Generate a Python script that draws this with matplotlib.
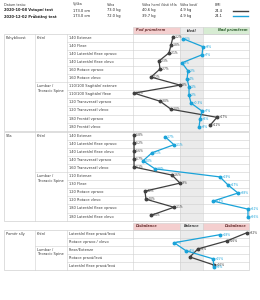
"""Spine test report chart: table of exercises with deviation from norm."""

import matplotlib
matplotlib.use("Agg")
import matplotlib.pyplot as plt
from matplotlib.patches import Rectangle

# --- header data ---
HEAD_COLS = ["Datum testu:", "Výška", "Váha", "Váha horní části těla", "Váha kostí", "BMI"]
TESTS = ["2020-10-08 Vstupní test", "2020-12-02 Průběžný test"]
HEIGHTS = ["173.0 cm", "173.0 cm"]
WEIGHTS = ["73.0 kg", "72.0 kg"]
UPPER = ["40.6 kg", "39.7 kg"]
BONES = ["4.9 kg", "4.9 kg"]
BMI = ["24.4", "24.1"]
TEST_COLORS = ["#404040", "#1aa3d9"]

# --- table data ---
GROUPS = ["Krční", "Lumbar /\nThoracic Spine"]

MOB_ROWS = ["140 Extenze", "140 Flexe", "140 Laterální flexe vpravo",
            "140 Laterální flexe vlevo", "160 Rotace vpravo", "160 Rotace vlevo",
            "110/100 Sagitální extenze", "110/100 Sagitální flexe",
            "120 Transverzál vpravo", "120 Transverzál vlevo",
            "180 Frontál vpravo", "180 Frontál vlevo"]
MOB_GROUP_SIZES = [6, 6]
MOB_FIRST = [34.5, 32.8, 31.0, 22.4, 23.3, 15.5, 40.5, 0.9, 23.3, 32.8, 72.4, 66.4]
MOB_FIRST_LBL = ["-12%", "-18%", "-21%", "-23%", "-27%", "-42%", "-8%", "-66%",
                 "-30%", "-20%", "+17%", "+11%"]
MOB_SECOND = [43.1, 60.3, 59.5, 42.2, 47.4, 46.6, 48.3, 48.3, 50.0, 59.5, 57.8, 56.9]
MOB_SECOND_LBL = ["-6%", "+8%", "+7%", "-9%", "-2%", "-4%", "-1%", "-2%",
                  "+0.3%", "+7%", "+6%", "+3%"]

STR_ROWS = ["140 Extenze", "140 Laterální flexe vpravo", "140 Laterální flexe vlevo",
            "140 Transverzál vpravo", "160 Transverzál vlevo",
            "110 Extenze", "130 Flexe", "120 Rotace vpravo", "120 Rotace vlevo",
            "180 Laterální flexe vpravo", "180 Laterální flexe vlevo"]
STR_GROUP_SIZES = [5, 6]
STR_FIRST = [0.9, 0.9, 0.9, 0.9, 0.9, 33.6, 40.5, 10.3, 11.2, 35.3, 15.5]
STR_FIRST_LBL = ["-58%", "-52%", "-56%", "-57%", "-61%", "-16%", "-9%", "-42%",
                 "-40%", "-11%", "-44%"]
STR_SECOND = [27.6, 35.3, 16.4, 8.6, 19.0, 75.0, 81.9, 90.5, 69.0, 99.1, 99.1]
STR_SECOND_LBL = ["-17%", "-11%", "-31%", "-40%", "-28%", "+19%", "+27%", "+38%",
                  "+13%", "+61%", "+96%"]

RAT_ROWS = ["Laterální flexe pravá/levá", "Rotace vpravo / vlevo",
            "Flexe/Extenze", "Rotace pravá/levá", "Laterální flexe pravá/levá"]
RAT_GROUP_SIZES = [2, 3]
RAT_FIRST = [98.0, 81.0, 56.0, 49.0, 69.8]
RAT_FIRST_LBL = ["+32%", "+16%", "+3%", "", "+16%"]
RAT_SECOND = [75.0, 35.5, 45.7, 69.0, 69.8]
RAT_SECOND_LBL = ["+18%", "-7%", "+4%", "+15%", "+9%"]

# zone limits on the score axis (0..100)
IDEAL_LO, IDEAL_HI = 40.5, 60.3

# --- layout (pixels) ---
W, H = 260, 300
X0, X_GRP, X_LBL, X_CH, X1 = 4, 35, 67, 133, 249
ROW_H = 8.05
LINE_C = "#d0d0d0"
TEXT_C = "#3a3a3a"
PINK, GREY, GREEN = "#f4cfcf", "#ebebeb", "#d7ecd3"
FS = 2.6


def px(score):
    return X_CH + score / 100 * (X1 - X_CH)


fig = plt.figure(figsize=(W / 100, H / 100), dpi=100, facecolor="white")
bg = fig.add_axes([0, 0, 1, 1])
bg.set_xlim(0, W)
bg.set_ylim(H, 0)
bg.axis("off")

# header block
col_x = [4, 73, 107, 142, 180, 215]
for x, t in zip(col_x, HEAD_COLS):
    bg.text(x, 4.5, t, fontsize=FS - 0.2, va="center", color=TEXT_C)
for i in range(2):
    y = 10.5 + i * 5.8
    vals = [TESTS[i], HEIGHTS[i], WEIGHTS[i], UPPER[i], BONES[i], BMI[i]]
    for j, (x, t) in enumerate(zip(col_x, vals)):
        bg.text(x, y, t, fontsize=FS, va="center", color="#222",
                fontweight="bold" if j == 0 else "normal")
    bg.plot([233, 248], [y, y], color=TEST_COLORS[i], lw=1.0)


def zone_header(y0, y1, labels, fills, colors):
    spans = [(X_CH, px(IDEAL_LO)), (px(IDEAL_LO), px(IDEAL_HI)), (px(IDEAL_HI), X1)]
    aligns = ["left", "center", "right"]
    for (a, b), lab, fc, tc, ha in zip(spans, labels, fills, colors, aligns):
        bg.add_patch(Rectangle((a, y0), b - a, y1 - y0, facecolor=fc,
                               edgecolor=LINE_C, lw=0.4))
        tx = {"left": a + 3, "center": (a + b) / 2, "right": b - 2}[ha]
        bg.text(tx, (y0 + y1) / 2, lab, fontsize=FS - 0.1, ha=ha, va="center",
                color=tc, style="italic", fontweight="bold")


def section(top, name, rows, group_sizes, first, first_lbl, second, second_lbl):
    n = len(rows)
    bottom = top + n * ROW_H
    # ideal band
    bg.add_patch(Rectangle((px(IDEAL_LO), top), px(IDEAL_HI) - px(IDEAL_LO),
                           n * ROW_H, facecolor=GREY, edgecolor="none", zorder=0))
    bg.add_patch(Rectangle((X0, top), X1 - X0, n * ROW_H, facecolor="none",
                           edgecolor=LINE_C, lw=0.5, zorder=1))
    for x in (X_GRP, X_LBL, X_CH, px(IDEAL_LO), px(IDEAL_HI)):
        bg.plot([x, x], [top, bottom], color=LINE_C, lw=0.4, zorder=1)
    bg.text(X0 + 2, top + 4, name, fontsize=FS, va="center", color=TEXT_C)
    r = 0
    for g, size in zip(GROUPS, group_sizes):
        gy = top + r * ROW_H
        if r > 0:
            bg.plot([X_GRP, X1], [gy, gy], color=LINE_C, lw=0.4, zorder=1)
        bg.text(X_GRP + 2, gy + 2, g, fontsize=FS, va="top", color=TEXT_C,
                linespacing=1.1)
        for k in range(size):
            ry = gy + k * ROW_H
            if k > 0:
                bg.plot([X_LBL, X1], [ry, ry], color=LINE_C, lw=0.4, zorder=1)
            bg.text(X_LBL + 2, ry + ROW_H / 2, rows[r + k], fontsize=FS,
                    va="center", color=TEXT_C)
        r += size

    ax = fig.add_axes([X_CH / W, 1 - bottom / H, (X1 - X_CH) / W, n * ROW_H / H])
    ax.set_xlim(0, 100)
    ax.set_ylim(n, 0)
    ax.axis("off")
    ax.patch.set_alpha(0)
    for vals, lbls, col, dy in ((first, first_lbl, TEST_COLORS[0], -0.15),
                                (second, second_lbl, TEST_COLORS[1], 0.08)):
        ys = [i + 0.5 + dy for i in range(n)]
        ax.plot(vals, ys, color=col, lw=0.9, marker="o", ms=1.8, clip_on=False)
        for v, y, t in zip(vals, ys, lbls):
            ax.text(v + 1.8, y, t, fontsize=FS - 0.4, va="center", color=col,
                    clip_on=False)


zone_header(27, 34, ["Pod průměrem", "Ideál", "Nad průměrem"],
            [PINK, GREY, GREEN], ["#6b3333", "#444444", "#2e5e2e"])
section(34, "Pohyblivost", MOB_ROWS, MOB_GROUP_SIZES,
        MOB_FIRST, MOB_FIRST_LBL, MOB_SECOND, MOB_SECOND_LBL)
section(132, "Síla", STR_ROWS, STR_GROUP_SIZES,
        STR_FIRST, STR_FIRST_LBL, STR_SECOND, STR_SECOND_LBL)
zone_header(223, 229.5, ["Disbalance", "Balance", "Disbalance"],
            [PINK, GREY, PINK], ["#6b3333", "#444444", "#6b3333"])
section(230, "Poměr síly", RAT_ROWS, RAT_GROUP_SIZES,
        RAT_FIRST, RAT_FIRST_LBL, RAT_SECOND, RAT_SECOND_LBL)

fig.savefig("out.png", dpi=100, facecolor="white")
plt.close(fig)
